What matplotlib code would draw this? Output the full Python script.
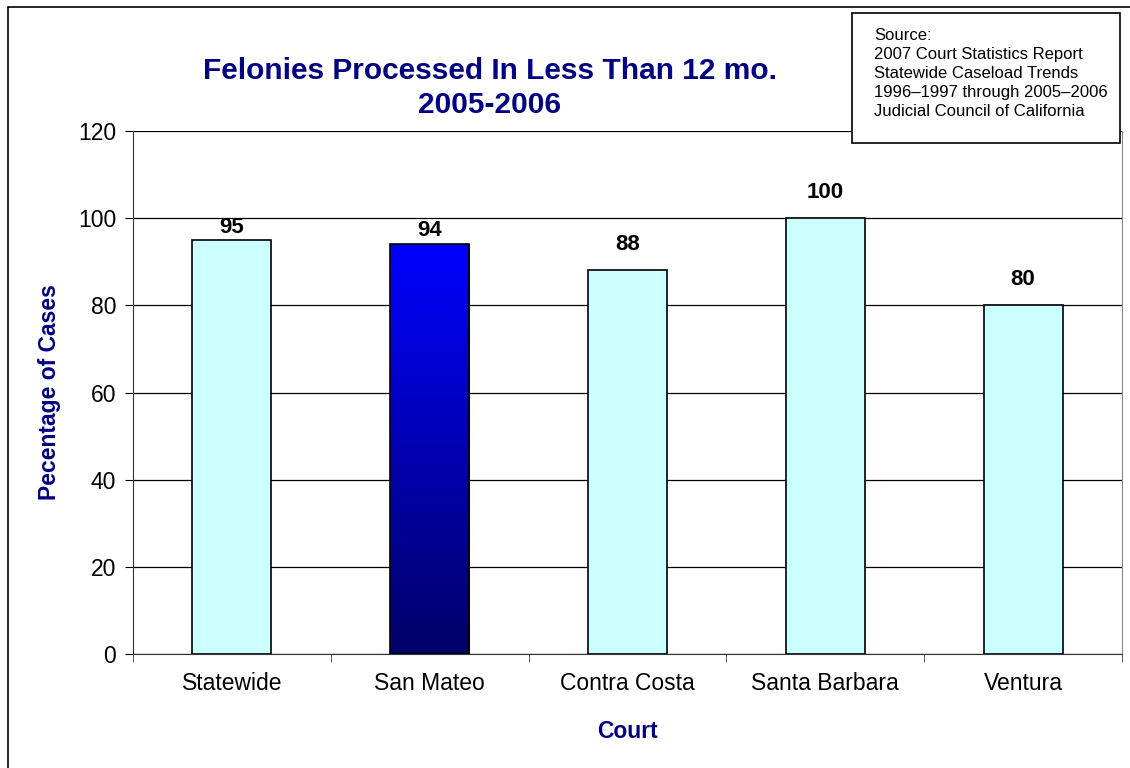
import matplotlib
matplotlib.use("Agg")
from matplotlib import pyplot as plt
from matplotlib.patches import Rectangle
import numpy as np

courts = ["Statewide", "San Mateo", "Contra Costa", "Santa Barbara", "Ventura"]
pct = [95, 94, 88, 100, 80]
yticks = [0, 20, 40, 60, 80, 100, 120]
source_lines = ["Source:", "2007 Court Statistics Report", "Statewide Caseload Trends",
                "1996\u20131997 through 2005\u20132006", "Judicial Council of California"]

plt.rcParams["font.family"] = ["Liberation Sans", "DejaVu Sans"]
navy = "#000080"

fig = plt.figure(figsize=(11.3, 7.68), dpi=100)
ax = fig.add_axes([133 / 1130, 1 - 654 / 768, (1122 - 133) / 1130, (654 - 131) / 768])

x = np.arange(len(courts))
bars = ax.bar(x, pct, width=0.4, color="#CCFFFF", edgecolor="black", linewidth=1.2, zorder=3)

# gradient fill for San Mateo
b = bars[1]
b.set_facecolor("none")
grad = np.linspace(0, 1, 256)
cols = np.zeros((256, 1, 3))
cols[:, 0, 2] = 0.40 + 0.60 * grad
im = ax.imshow(cols, extent=[b.get_x(), b.get_x() + b.get_width(), 0, b.get_height()],
               origin="lower", aspect="auto", zorder=2.9)
im.set_clip_path(b)

# labels near the gridline sit a little lower, like the original
offsets = [12, 14, 26, 26, 26]
for xi, v, off in zip(x, pct, offsets):
    ax.annotate(str(v), (xi, v), xytext=(0, off), textcoords="offset pixels",
                ha="center", va="center", fontsize=16, fontweight="bold")

ax.set_xlim(-0.5, len(courts) - 0.5)
ax.set_ylim(0, 120)
ax.set_yticks(yticks)
ax.set_yticklabels([str(t) for t in yticks], fontsize=16.5)
ax.set_xticks(x)
ax.set_xticklabels(courts, fontsize=16.5)
ax.tick_params(axis="x", length=0, pad=13)
ax.set_xticks(np.arange(len(courts) + 1) - 0.5, minor=True)
ax.tick_params(axis="x", which="minor", length=6, direction="out", color="#444444")
ax.tick_params(axis="y", length=6, direction="out", pad=6)
ax.grid(axis="y", color="black", linewidth=0.9, zorder=0)

ax.spines["left"].set_color("#333333")
ax.spines["bottom"].set_color("#333333")
ax.spines["right"].set_color("#888888")
ax.spines["top"].set_visible(False)

ax.set_xlabel("Court", fontsize=16.5, fontweight="bold", color=navy, labelpad=18)
ax.set_ylabel("Pecentage of Cases", fontsize=16.5, fontweight="bold", color=navy, labelpad=12)

fig.text(490 / 1130, 1 - 88 / 768, "Felonies Processed In Less Than 12 mo.\n2005-2006",
         ha="center", va="center", fontsize=21.5, fontweight="bold", color=navy, linespacing=1.3)

# source box
fig.patches.append(Rectangle((852 / 1130, 1 - 143 / 768), (1120 - 852) / 1130, 130 / 768,
                             transform=fig.transFigure, facecolor="white", edgecolor="black",
                             linewidth=1.2, zorder=5))
fig.text(874 / 1130, 1 - 28 / 768, "\n".join(source_lines), ha="left", va="top",
         fontsize=12, linespacing=1.33, zorder=6)

# outer chart border
fig.patches.append(Rectangle((8 / 1130, -0.05), 1.2, 1 - 7 / 768 + 0.05,
                             transform=fig.transFigure, facecolor="none", edgecolor="black",
                             linewidth=1.2, zorder=1))

fig.savefig("out.png", dpi=100)
